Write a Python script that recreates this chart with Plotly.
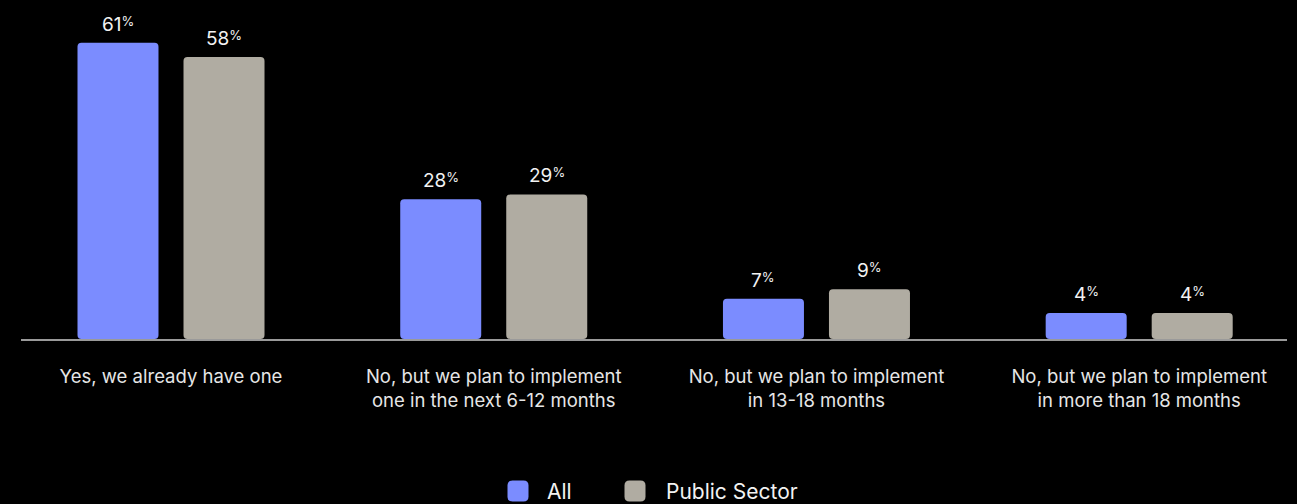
import plotly.graph_objects as go

# Survey responses, share of respondents (%)
categories = [
    "Yes, we already have one",
    "No, but we plan to implement one in the next 6-12 months",
    "No, but we plan to implement in 13-18 months",
    "No, but we plan to implement in more than 18 months",
]
tick_labels = [
    "Yes, we already have one",
    "No, but we plan to implement<br>one in the next 6-12 months",
    "No, but we plan to implement<br>in 13-18 months",
    "No, but we plan to implement<br>in more than 18 months",
]
all_values = [61, 28, 7, 4]
public_values = [58, 29, 9, 4]
series_names = ["All", "Public Sector"]

BLUE = "#7b8cff"
GRAY = "#b0aca2"
FONT = "Inter, Liberation Sans, Arial, sans-serif"
BAR_FLOOR = -1.5  # bars start slightly below zero so small values stay visible

fig = go.Figure()
for name, vals, color in zip(series_names, [all_values, public_values], [BLUE, GRAY]):
    fig.add_trace(go.Bar(
        x=categories, y=[v - BAR_FLOOR for v in vals], base=BAR_FLOOR,
        name=name, marker_color=color,
        marker_line_width=0, showlegend=False, hoverinfo="skip",
    ))

# value labels above each bar, with a small raised percent sign
annotations = []
for vals, shift in [(all_values, -53), (public_values, 53)]:
    for cat, v in zip(categories, vals):
        annotations.append(dict(
            x=cat, y=v, xref="x", yref="y", xshift=shift, yshift=5,
            yanchor="bottom", showarrow=False,
            text=f"{v}<span style='font-size:13px;baseline-shift:5px'>%</span>",
            font=dict(family=FONT, size=19, color="#f2f2f2"),
        ))

# custom legend: rounded swatches and labels
legend_items = [("All", BLUE, 518, 545), ("Public Sector", GRAY, 635, 664)]
W, H = 1297, 504
L, R, T, B = 21, 10, 20, 165
pw, ph = W - L - R, H - T - B
shapes = []
for label, color, cx, tx in legend_items:
    xa = (cx - L) / pw
    ya = (H - B - 491) / ph
    r, s = 5, 10.5
    path = (f"M {-s + r},{-s} L {s - r},{-s} Q {s},{-s} {s},{-s + r} "
            f"L {s},{s - r} Q {s},{s} {s - r},{s} L {-s + r},{s} "
            f"Q {-s},{s} {-s},{s - r} L {-s},{-s + r} Q {-s},{-s} {-s + r},{-s} Z")
    shapes.append(dict(
        type="path", xref="paper", yref="paper", xsizemode="pixel", ysizemode="pixel",
        xanchor=xa, yanchor=ya, path=path, fillcolor=color, line_width=0,
    ))
    annotations.append(dict(
        x=(tx - L) / pw, y=ya, xref="paper", yref="paper", xanchor="left",
        yanchor="middle", showarrow=False, text=label,
        font=dict(family=FONT, size=21, color="#f2f2f2"),
    ))

fig.update_layout(
    width=W, height=H,
    margin=dict(l=L, r=R, t=T, b=B),
    paper_bgcolor="#000000", plot_bgcolor="#000000",
    barmode="group", bargap=0.343, bargroupgap=0.236, barcornerradius=4,
    font=dict(family=FONT, color="#e6e6e6"),
    xaxis=dict(
        range=[-0.4648, 3.458], tickvals=categories, ticktext=tick_labels,
        tickfont=dict(family=FONT, size=18.5, color="#e6e6e6"),
        showgrid=False, zeroline=False, showline=True,
        linecolor="#9a9a9a", linewidth=1.5, ticks="", ticklabelstandoff=20,
        fixedrange=True,
    ),
    yaxis=dict(range=[BAR_FLOOR, 65.8], visible=False, showgrid=False, fixedrange=True),
    annotations=annotations, shapes=shapes, showlegend=False,
)

fig.write_html("out.html")
